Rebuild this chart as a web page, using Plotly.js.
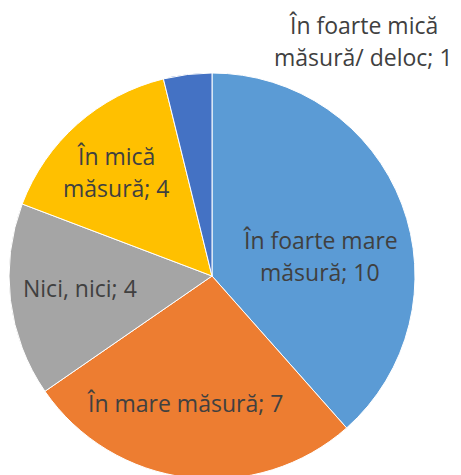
<!DOCTYPE html>
<html>
<head>
<meta charset="utf-8">
<script src="https://cdn.plot.ly/plotly-3.0.1.min.js"></script>
<style>html,body{margin:0;padding:0;overflow:hidden;background:#fff;width:461px;height:475px;}#chart{width:461px;height:490px;}</style>
</head>
<body>
<div id="chart"></div>
<script>
const categories = ["În foarte mare măsură", "În mare măsură", "Nici, nici", "În mică măsură", "În foarte mică măsură/ deloc"];
const values = [10, 7, 4, 4, 1];
const colors = ["#5B9BD5", "#ED7D31", "#A5A5A5", "#FFC000", "#4472C4"];
const labelLines = [
  ["În foarte mare", "măsură; 10"],
  ["În mare măsură; 7"],
  ["Nici, nici; 4"],
  ["În mică", "măsură; 4"],
  ["În foarte mică", "măsură/ deloc; 1"]
];
// label block centre positions (pixels from top-left)
const labelPos = [[320, 256], [185, 403], [80, 288], [116, 172], [363, 41]];
const lineGap = 32;

const W = 461, H = 490;
const data = [{
  type: "pie",
  labels: categories,
  values: values,
  sort: false,
  direction: "clockwise",
  rotation: 0,
  marker: {colors: colors, line: {color: "#ffffff", width: 1}},
  textinfo: "none",
  hoverinfo: "label+value",
  showlegend: false,
  domain: {x: [9/W, 415/W], y: [(H-479)/H, (H-73)/H]}
}];
const annotations = [];
labelLines.forEach((lines, i) => {
  const n = lines.length;
  lines.forEach((ln, j) => {
    const py = labelPos[i][1] + (j - (n - 1) / 2) * lineGap;
    annotations.push({
      xref: "paper", yref: "paper",
      x: labelPos[i][0] / W, y: 1 - py / H,
      xanchor: "center", yanchor: "middle",
      text: ln,
      showarrow: false,
      font: {family: "'Open Sans', sans-serif", size: 23, color: "#404040"}
    });
  });
});
const layout = {
  width: W, height: H,
  margin: {l: 0, r: 0, t: 0, b: 0},
  paper_bgcolor: "#ffffff",
  annotations: annotations
};
Plotly.newPlot("chart", data, layout, {displayModeBar: false, staticPlot: true});
</script>
</body>
</html>
